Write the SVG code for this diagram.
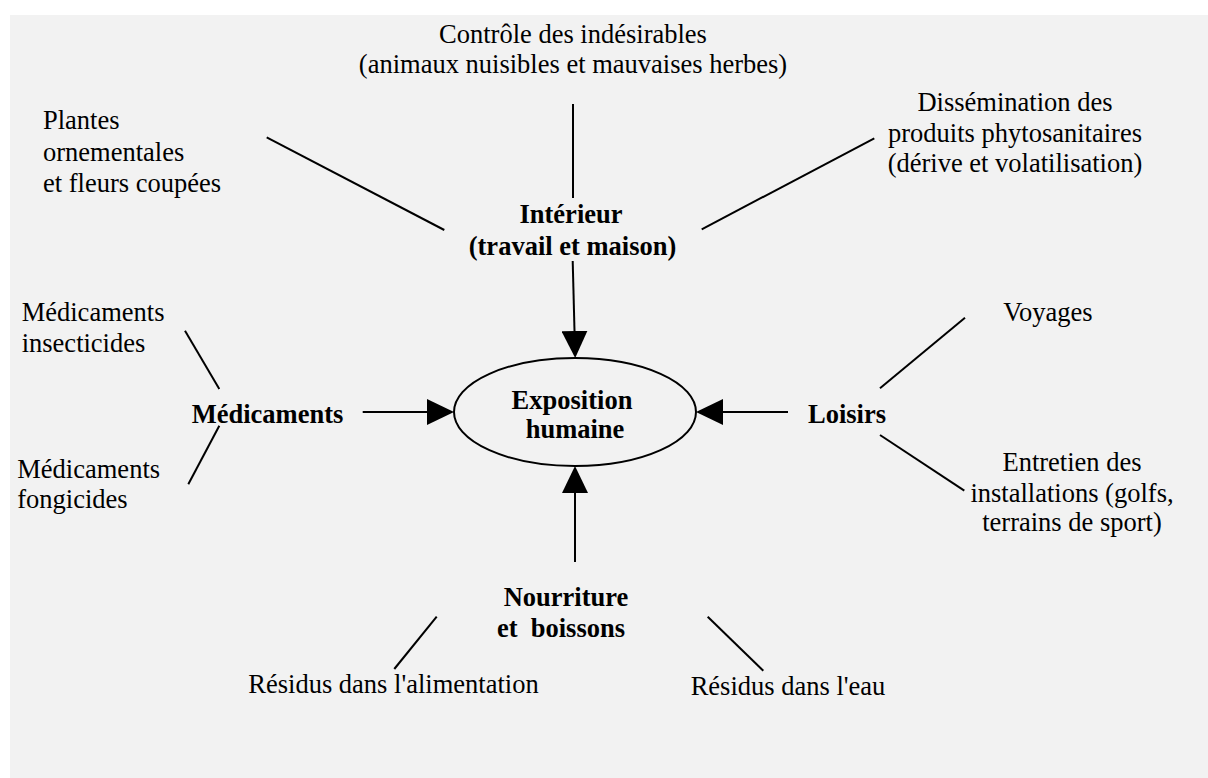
<svg xmlns="http://www.w3.org/2000/svg" width="1208" height="778" viewBox="0 0 1208 778">
<defs>
<style>
text{font-family:"Liberation Serif","Times New Roman",serif;font-size:26.5px;fill:#000;white-space:pre}
.b{font-weight:bold}
.m{text-anchor:middle}
.ln{stroke:#000;stroke-width:2;fill:none}
</style>
<marker id="ah" markerUnits="userSpaceOnUse" markerWidth="27" markerHeight="26" refX="0" refY="13" orient="auto" viewBox="0 0 27 26">
<path d="M0,0 L27,13 L0,26 z" fill="#000"/>
</marker>
</defs>
<rect x="0" y="0" width="1208" height="778" fill="#fff"/>
<rect x="10" y="15" width="1198" height="763" fill="#f2f2f2"/>
<g id="connectors">
<line class="ln" x1="573" y1="104" x2="573" y2="198"/>
<line class="ln" x1="266.7" y1="137.3" x2="444.3" y2="230"/>
<line class="ln" x1="874.3" y1="138.3" x2="701.7" y2="229.3"/>
<line class="ln" x1="572.7" y1="261" x2="574.5" y2="331" marker-end="url(#ah)"/>
<line class="ln" x1="185" y1="330.7" x2="219.3" y2="389"/>
<line class="ln" x1="219.3" y1="425.7" x2="188.3" y2="484.3"/>
<line class="ln" x1="362.7" y1="412" x2="427" y2="412" marker-end="url(#ah)"/>
<line class="ln" x1="788" y1="412" x2="723" y2="412" marker-end="url(#ah)"/>
<line class="ln" x1="880" y1="388.3" x2="965" y2="317.7"/>
<line class="ln" x1="880" y1="435" x2="964.3" y2="490.7"/>
<line class="ln" x1="575" y1="562" x2="575" y2="493" marker-end="url(#ah)"/>
<line class="ln" x1="436.7" y1="616.7" x2="394.3" y2="669"/>
<line class="ln" x1="707.7" y1="616.7" x2="763.3" y2="670.7"/>
</g>
<g id="controle">
<text class="m" x="573" y="43">Contrôle des indésirables</text>
<text class="m" x="573" y="73">(animaux nuisibles et mauvaises herbes)</text>
</g>
<g id="plantes">
<text x="43" y="129">Plantes</text>
<text x="43" y="160.5">ornementales</text>
<text x="43" y="192">et fleurs coupées</text>
</g>
<g id="dissemination">
<text class="m" x="1015" y="111">Dissémination des</text>
<text class="m" x="1015" y="142">produits phytosanitaires</text>
<text class="m" x="1015" y="172">(dérive et volatilisation)</text>
</g>
<g id="interieur">
<text class="b m" x="571" y="223">Intérieur</text>
<text class="b m" x="572.5" y="255">(travail et maison)</text>
</g>
<g id="med-insecticides">
<text x="21.7" y="320.5">Médicaments</text>
<text x="21.7" y="351.5">insecticides</text>
</g>
<g id="medicaments">
<text class="b" x="191.7" y="423">Médicaments</text>
</g>
<g id="med-fongicides">
<text x="17.3" y="478">Médicaments</text>
<text x="17.3" y="508">fongicides</text>
</g>
<g id="exposition">
<ellipse cx="575" cy="412" rx="121" ry="54" fill="none" stroke="#000" stroke-width="2"/>
<text class="b m" x="572" y="409">Exposition</text>
<text class="b m" x="575" y="438">humaine</text>
</g>
<g id="loisirs">
<text class="b" x="808" y="423">Loisirs</text>
</g>
<g id="voyages">
<text class="m" x="1048" y="320.5">Voyages</text>
</g>
<g id="entretien">
<text class="m" x="1072" y="470.5">Entretien des</text>
<text class="m" x="1072" y="501.5">installations (golfs,</text>
<text class="m" x="1072" y="531">terrains de sport)</text>
</g>
<g id="nourriture">
<text class="b m" x="566" y="605.7">Nourriture</text>
<text class="b m" x="561" y="636.7">et  boissons</text>
</g>
<g id="residus-alimentation">
<text x="248.3" y="693.3">Résidus dans l'alimentation</text>
</g>
<g id="residus-eau">
<text x="690.7" y="695">Résidus dans l'eau</text>
</g>
</svg>
